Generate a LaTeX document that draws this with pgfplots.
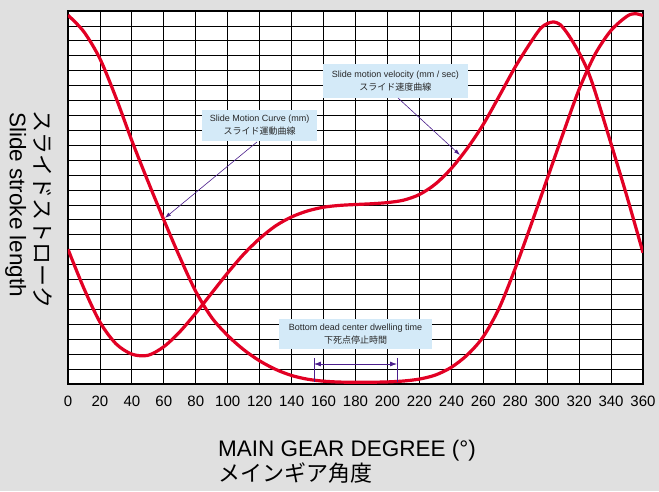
\documentclass[border=0pt]{standalone}
\usepackage{pgfplots}
\pgfplotsset{compat=1.18}
\usepackage{pgfplotstable}
\usepackage{fontspec}
\setmainfont{Liberation Sans}
\newfontfamily\jp{Noto Sans CJK JP}
\usetikzlibrary{arrows.meta}

\definecolor{bggray}{RGB}{224,224,224}
\definecolor{curvered}{RGB}{226,0,36}
\definecolor{notebox}{RGB}{212,234,248}
\definecolor{arrowpurple}{RGB}{75,30,140}
\definecolor{notetext}{RGB}{40,40,40}

% slide stroke (mm)
\pgfplotstableread{
deg y
0   24.72
10  23.6
20  21.8
30  19.2
40  16.3
50  13.6
60  11.0
70  8.5
80  6.2
90  4.45
100 3.25
110 2.3
120 1.55
130 0.98
140 0.57
150 0.32
160 0.19
170 0.13
180 0.12
190 0.12
200 0.14
210 0.2
220 0.33
230 0.6
240 1.12
250 1.95
260 3.17
270 5.1
280 7.75
290 10.7
300 13.75
310 16.8
320 19.75
330 22.1
340 23.7
350 24.65
355 24.82
360 24.7
}\strokedata

% slide velocity (mm/sec)
\pgfplotstableread{
deg y
0   9.03
10  6.4
20  4.15
30  2.7
40  2.0
50  1.92
60  2.5
70  3.5
80  4.75
90  6.1
100 7.45
110 8.7
120 9.75
130 10.6
140 11.2
150 11.6
160 11.85
170 11.97
180 12.03
190 12.08
200 12.16
210 12.32
220 12.7
230 13.4
240 14.45
250 15.8
260 17.4
270 19.3
280 21.25
290 22.95
296 23.85
300 24.15
304 24.27
308 24.1
312 23.6
316 22.95
320 22.2
325 21.1
330 19.6
340 16.1
350 12.55
360 8.8
}\velodata

\begin{document}
\begin{tikzpicture}
\fill[bggray] (-68pt,-107pt) rectangle (591pt,384pt);
\path[use as bounding box] (-68pt,-107pt) rectangle (591pt,384pt);
\begin{axis}[
    at={(0pt,0pt)}, anchor=south west,
    scale only axis, width=575pt, height=373pt,
    xmin=0, xmax=360, ymin=0, ymax=25,
    axis background/.style={fill=white},
    axis line style={black, line width=1.4pt},
    grid=major,
    major grid style={black, line width=0.8pt},
    xtick={0,20,...,360},
    ytick={0,1,...,25},
    yticklabels={},
    xtick style={draw=none},
    ytick style={black, line width=0.8pt},
    tick align=inside,
    major tick length=4pt,
    /pgf/number format/assume math mode=true,
    xticklabel style={font=\fontsize{15}{15}\selectfont, inner sep=0pt, yshift=-12pt},
]
\addplot[curvered, line width=3.2pt, smooth] table[x=deg, y=y] {\strokedata};
\addplot[curvered, line width=3.2pt, smooth] table[x=deg, y=y] {\velodata};

% notes
\node[fill=notebox, text=notetext, minimum width=115pt, minimum height=31pt, inner sep=0pt, align=center,
      font=\fontsize{9}{13}\selectfont] at (axis cs:120,17.33)
      {Slide Motion Curve (mm)\\{\jp スライド運動曲線}};
\draw[arrowpurple, line width=0.6pt, -{Latex[length=6pt,width=4pt]}] (axis cs:118.3,16.22) -- (axis cs:60.7,11.13);

\node[fill=notebox, text=notetext, minimum width=145pt, minimum height=34pt, inner sep=0pt, align=center,
      font=\fontsize{9}{13}\selectfont] at (axis cs:205,20.31)
      {Slide motion velocity (mm / sec)\\{\jp スライド速度曲線}};
\draw[arrowpurple, line width=0.6pt, -{Latex[length=6pt,width=4pt]}] (axis cs:206.6,19.17) -- (axis cs:245.4,15.35);

\node[fill=notebox, text=notetext, minimum width=153pt, minimum height=30pt, inner sep=0pt, align=center,
      font=\fontsize{9}{13}\selectfont] at (axis cs:180,3.35)
      {Bottom dead center dwelling time\\{\jp 下死点停止時間}};
\draw[arrowpurple, line width=0.8pt] (axis cs:154,0.13) -- (axis cs:154,1.75);
\draw[arrowpurple, line width=0.8pt] (axis cs:206,0.13) -- (axis cs:206,1.75);
\draw[arrowpurple, line width=0.8pt, {Latex[length=7pt,width=5pt]}-{Latex[length=7pt,width=5pt]}] (axis cs:154,1.34) -- (axis cs:206,1.34);
\end{axis}

\node[anchor=base west, inner sep=0pt, font=\fontsize{22.5}{22.5}\selectfont] at (150pt,-72pt) {MAIN GEAR DEGREE (°)};
\node[anchor=base west, inner sep=0pt, font=\jp\fontsize{22}{22}\selectfont] at (150pt,-97pt) {メインギア角度};
\node[rotate=-90, anchor=base west, inner sep=0pt, font=\jp\fontsize{22}{22}\selectfont] at (-33pt,274pt) {スライドストローク};
\node[rotate=-90, anchor=base west, inner sep=0pt, font=\fontsize{22.5}{22.5}\selectfont] at (-58pt,272pt) {Slide stroke length};
\end{tikzpicture}
\end{document}
